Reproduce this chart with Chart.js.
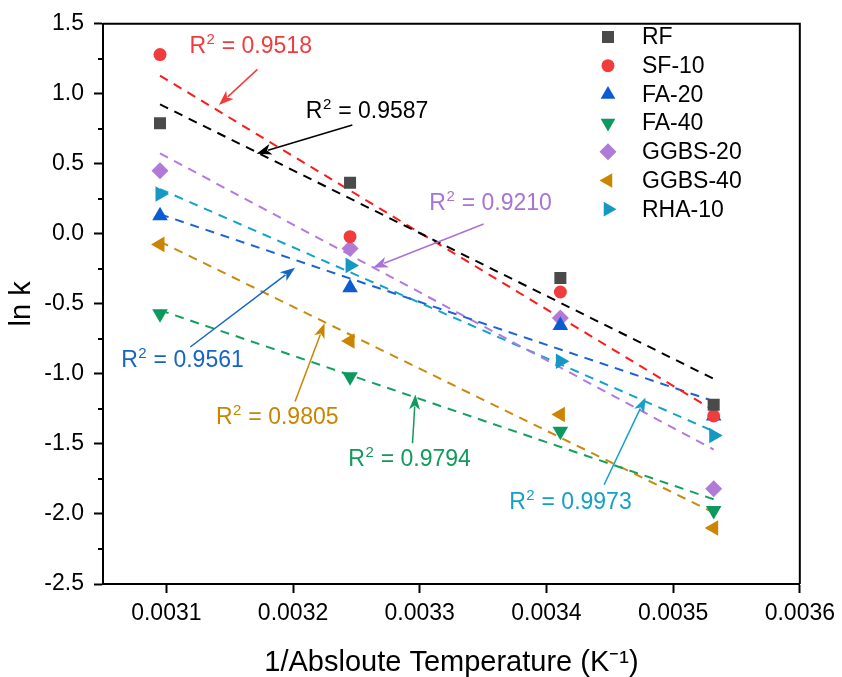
<!DOCTYPE html>
<html>
<head>
<meta charset="utf-8">
<script src="https://cdn.jsdelivr.net/npm/chart.js@4/dist/chart.umd.min.js"></script>
<style>
  html, body { margin: 0; padding: 0; background: #fff; }
  canvas { display: block; }
</style>
</head>
<body>
<canvas id="c" width="842" height="677"></canvas>
<script>
// ---------------- data ----------------
const categories = ['RF', 'SF-10', 'FA-20', 'FA-40', 'GGBS-20', 'GGBS-40', 'RHA-10'];
const invT = [0.003095, 0.003245, 0.003411, 0.003532];
const RF     = [0.79, 0.365, -0.315, -1.22];
const SF10   = [1.28, -0.02, -0.415, -1.30];
const FA20   = [0.13, -0.385, -0.655, -1.30];
const FA40   = [-0.57, -1.02, -1.41, -1.975];
const GGBS20 = [0.45, -0.105, -0.60, -1.82];
const GGBS40 = [-0.075, -0.765, -1.29, -2.10];
const RHA10  = [0.285, -0.225, -0.91, -1.44];
const fitStart = [0.925, 1.13, 0.14, -0.545, 0.575, -0.055, 0.32];
const fitEnd   = [-1.035, -1.26, -1.195, -1.895, -1.54, -1.99, -1.41];
const r2Values = ['0.9587', '0.9518', '0.9561', '0.9794', '0.9210', '0.9805', '0.9973'];
const xTicks = [0.0031, 0.0032, 0.0033, 0.0034, 0.0035, 0.0036];
const yTicks = [-2.5, -2.0, -1.5, -1.0, -0.5, 0.0, 0.5, 1.0, 1.5];
const yMinorTicks = [-2.25, -1.75, -1.25, -0.75, -0.25, 0.25, 0.75, 1.25];
const xTitle = '1/Absloute Temperature (K\u207B\u00B9)';
const yTitle = 'ln k';

const seriesValues = [RF, SF10, FA20, FA40, GGBS20, GGBS40, RHA10];

// ---------------- styles ----------------
const markerColors = ['#4a4a4a', '#f03c3c', '#0b5bd3', '#0c9960', '#b07ad6', '#cc8500', '#1598c2'];
const lineColors   = ['#000000', '#ff1a1a', '#1a62d6', '#12a05f', '#b27ae0', '#c98a10', '#13a3c9'];
const textColors   = ['#000000', '#f23c3c', '#1565c8', '#129a5c', '#a873d6', '#c88600', '#14a0c8'];
const pointStyles  = ['rect', 'circle', 'triangle', 'triangle', 'rectRot', 'triangle', 'triangle'];
const rotations    = [0, 0, 0, 180, 0, 270, 90];
const radii        = [8.5, 6.5, 9, 9, 8.5, 9, 9];

// annotation placement (data coordinates): text anchor and arrow tail/head
const annotLayout = [
  { s: 0, tx: 0.0032101, ty: 0.8276, x1: 0.0032468, y1: 0.778, x2: 0.0031712, y2: 0.5729 },
  { s: 1, tx: 0.0031182, ty: 1.295,  x1: 0.0031719, y1: 1.1745, x2: 0.0031415, y2: 0.9197 },
  { s: 2, tx: 0.0030644, ty: -0.9494, x1: 0.0031189, y1: -0.8078, x2: 0.0032016, y2: -0.2414 },
  { s: 3, tx: 0.0032436, ty: -1.6573, x1: 0.0032943, y1: -1.4945, x2: 0.0032966, y2: -1.1476 },
  { s: 4, tx: 0.0033076, ty: 0.1689, x1: 0.0033504, y1: 0.0701, x2: 0.0032631, y2: -0.2414 },
  { s: 5, tx: 0.0031392, ty: -1.3600, x1: 0.0032016, y1: -1.1972, x2: 0.0032249, y2: -0.6379 },
  { s: 6, tx: 0.0033706, ty: -1.9611, x1: 0.0034455, y1: -1.7912, x2: 0.0034782, y2: -1.1681 }
];

const FONT = '"Liberation Sans", Arial, Helvetica, sans-serif';
Chart.defaults.font.family = FONT;
Chart.defaults.color = '#000';

// ---------------- datasets ----------------
const datasets = [];
categories.forEach((name, i) => {
  datasets.push({
    label: name,
    data: invT.map((x, j) => ({ x: x, y: seriesValues[i][j] })),
    showLine: false,
    pointStyle: pointStyles[i],
    rotation: rotations[i],
    pointRadius: radii[i],
    pointBackgroundColor: markerColors[i],
    pointBorderColor: markerColors[i],
    pointBorderWidth: 0,
    order: 0
  });
});
categories.forEach((name, i) => {
  datasets.push({
    label: name + ' fit',
    data: [{ x: invT[0], y: fitStart[i] }, { x: invT[invT.length - 1], y: fitEnd[i] }],
    showLine: true,
    pointRadius: 0,
    borderColor: lineColors[i],
    borderWidth: 2,
    borderDash: [9, 7],
    fill: false,
    order: 1
  });
});

function drawMarker(ctx, style, rot, r, x, y, color) {
  ctx.save();
  ctx.fillStyle = color;
  ctx.strokeStyle = color;
  if (Chart.helpers && Chart.helpers.drawPoint) {
    Chart.helpers.drawPoint(ctx, { pointStyle: style, rotation: rot, radius: r, borderWidth: 0 }, x, y);
  }
  ctx.restore();
}

function drawR2(ctx, x, y, val, color) {
  ctx.save();
  ctx.fillStyle = color;
  ctx.textAlign = 'left';
  ctx.textBaseline = 'alphabetic';
  ctx.font = '23px ' + FONT;
  ctx.fillText('R', x, y);
  let w = ctx.measureText('R').width;
  ctx.font = '15px ' + FONT;
  ctx.fillText('2', x + w + 0.5, y - 9);
  let w2 = ctx.measureText('2').width;
  ctx.font = '23px ' + FONT;
  ctx.fillText(' = ' + val, x + w + w2 + 1, y);
  ctx.restore();
}

function drawArrow(ctx, x1, y1, x2, y2, color) {
  const ang = Math.atan2(y2 - y1, x2 - x1);
  const L = 15, H = 5.5;
  const bx = x2 - L * Math.cos(ang), by = y2 - L * Math.sin(ang);
  ctx.save();
  ctx.strokeStyle = color;
  ctx.fillStyle = color;
  ctx.lineWidth = 1.5;
  ctx.setLineDash([]);
  ctx.beginPath();
  ctx.moveTo(x1, y1);
  ctx.lineTo(bx + 3 * Math.cos(ang), by + 3 * Math.sin(ang));
  ctx.stroke();
  ctx.beginPath();
  ctx.moveTo(x2, y2);
  ctx.lineTo(bx + H * Math.sin(ang), by - H * Math.cos(ang));
  ctx.lineTo(bx + 4 * Math.cos(ang), by + 4 * Math.sin(ang));
  ctx.lineTo(bx - H * Math.sin(ang), by + H * Math.cos(ang));
  ctx.closePath();
  ctx.fill();
  ctx.restore();
}

const extras = {
  id: 'extras',
  afterDatasetsDraw(chart) {
    const ctx = chart.ctx;
    const xs = chart.scales.x, ys = chart.scales.y;
    annotLayout.forEach(a => {
      const c = textColors[a.s];
      drawArrow(ctx, xs.getPixelForValue(a.x1), ys.getPixelForValue(a.y1),
                xs.getPixelForValue(a.x2), ys.getPixelForValue(a.y2), c);
      drawR2(ctx, xs.getPixelForValue(a.tx), ys.getPixelForValue(a.ty), r2Values[a.s], c);
    });
  },
  afterDraw(chart) {
    const ctx = chart.ctx;
    const ca = chart.chartArea;
    const ys = chart.scales.y;
    ctx.save();
    // frame
    ctx.strokeStyle = '#000';
    ctx.lineWidth = 2;
    ctx.beginPath();
    ctx.moveTo(ca.left, ca.top);
    ctx.lineTo(ca.right, ca.top);
    ctx.lineTo(ca.right, ca.bottom);
    ctx.stroke();
    // minor ticks on y
    ctx.lineWidth = 2;
    yMinorTicks.forEach(v => {
      const py = Math.round(ys.getPixelForValue(v));
      ctx.beginPath();
      ctx.moveTo(ca.left - 5, py);
      ctx.lineTo(ca.left, py);
      ctx.stroke();
    });
    // legend
    const lx = 608, tx = 642, y0 = 37, dy = 28.7;
    ctx.font = '23px ' + FONT;
    ctx.textAlign = 'left';
    ctx.textBaseline = 'middle';
    categories.forEach((name, i) => {
      const y = y0 + i * dy;
      const rr = pointStyles[i] === 'circle' ? 6.5 : 8.5;
      drawMarker(ctx, pointStyles[i], rotations[i], rr, lx, y, markerColors[i]);
      ctx.fillStyle = '#000';
      ctx.fillText(name, tx, y + 1);
    });
    ctx.restore();
  }
};

new Chart(document.getElementById('c'), {
  type: 'scatter',
  data: { datasets: datasets },
  plugins: [extras],
  options: {
    responsive: false,
    animation: false,
    devicePixelRatio: 1,
    layout: { padding: { top: 19, right: 37, left: 0, bottom: 0 } },
    plugins: { legend: { display: false }, tooltip: { enabled: false } },
    scales: {
      x: {
        type: 'linear',
        min: 0.00305,
        max: 0.0036,
        afterBuildTicks: (s) => { s.ticks = xTicks.map(v => ({ value: v })); },
        afterFit: (s) => { s.height = 93; },
        ticks: {
          font: { size: 23 },
          color: '#000',
          padding: 7,
          maxRotation: 0,
          autoSkip: false,
          callback: (v) => Number(v).toFixed(4)
        },
        grid: { display: true, drawOnChartArea: false, drawTicks: true, tickLength: 9, tickWidth: 2, tickColor: '#000' },
        border: { display: true, color: '#000', width: 2 },
        title: { display: true, text: xTitle, font: { size: 29, lineHeight: 1 }, color: '#000', padding: { top: 0, bottom: 0 } }
      },
      y: {
        type: 'linear',
        min: -2.5,
        max: 1.5,
        afterBuildTicks: (s) => { s.ticks = yTicks.map(v => ({ value: v })); },
        afterFit: (s) => { s.width = 103; },
        ticks: {
          font: { size: 23 },
          color: '#000',
          padding: 10,
          autoSkip: false,
          callback: (v) => Number(v).toFixed(1)
        },
        grid: { display: true, drawOnChartArea: false, drawTicks: true, tickLength: 9, tickWidth: 2, tickColor: '#000' },
        border: { display: true, color: '#000', width: 2 },
        title: { display: true, text: yTitle, font: { size: 29, lineHeight: 1 }, color: '#000', padding: { top: 7, bottom: 0 } }
      }
    }
  }
});
</script>
</body>
</html>
